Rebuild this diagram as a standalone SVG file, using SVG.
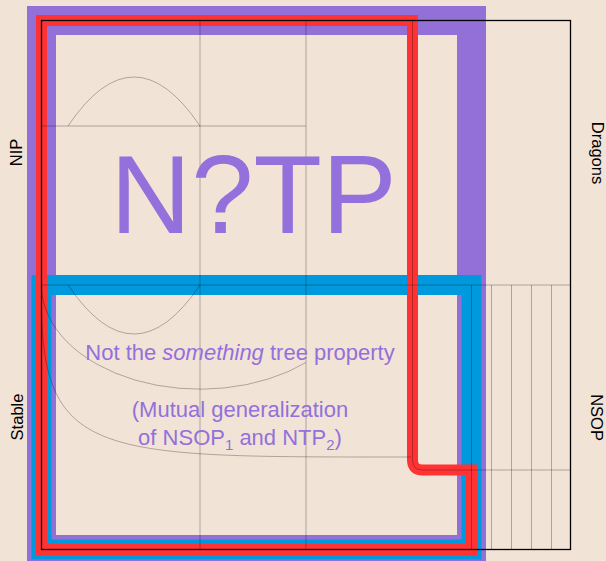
<svg xmlns="http://www.w3.org/2000/svg" width="606" height="561" viewBox="0 0 606 561">
  <style>
    .grid { fill: none; stroke: #000; stroke-opacity: 0.28; stroke-width: 1; }
    .lbl { font-family: "Liberation Sans", Arial, sans-serif; font-size: 16.5px; fill: #000; text-anchor: middle; }
    .sub { font-family: "Liberation Sans", Arial, sans-serif; font-size: 22px; fill: #9370DB; text-anchor: middle; }
    .big { font-family: "Liberation Sans", Arial, sans-serif; font-size: 112px; fill: #9370DB; text-anchor: middle; }
  </style>
  <rect x="0" y="0" width="606" height="561" fill="#F2E3D7"/>

  <g id="ntp-region">
    <rect x="41.5" y="20.5" width="430" height="529" fill="none" stroke="#9370D8" stroke-width="29"/>
  </g>
  <g id="stable-region">
    <rect x="41.5" y="285" width="430" height="264.5" fill="none" stroke="#0099DD" stroke-width="20"/>
  </g>
  <g id="nip-region">
    <path d="M41.5 20.5 H412.5 V460 Q412.5 470 422.5 470 H471.5 V549.5 H41.5 Z" fill="none" stroke="#FF3333" stroke-width="11" stroke-linejoin="miter"/>
  </g>

  <g id="connectors">
    <line class="grid" x1="200" y1="20.5" x2="200" y2="549.5"/>
    <line class="grid" x1="306" y1="20.5" x2="306" y2="549.5"/>
    <line class="grid" x1="41.5" y1="126" x2="306" y2="126"/>
    <line class="grid" x1="41.5" y1="285" x2="570.5" y2="285"/>
    <path class="grid" d="M412.5 20.5 V460 Q412.5 470 422.5 470 H570.5" stroke-width="2"/>
    <line class="grid" x1="471.5" y1="285" x2="471.5" y2="549.5"/>
    <line class="grid" x1="491.5" y1="285" x2="491.5" y2="549.5"/>
    <line class="grid" x1="511.5" y1="285" x2="511.5" y2="549.5"/>
    <line class="grid" x1="531.5" y1="285" x2="531.5" y2="549.5"/>
    <line class="grid" x1="551.5" y1="285" x2="551.5" y2="549.5"/>
    <path class="grid" d="M68 126 Q134 28 200 126"/>
    <path class="grid" d="M68 285 Q134 383 200 285"/>
    <path class="grid" d="M41.5 285 A158.5 104 0 0 0 306 362.5"/>
    <path class="grid" d="M41.5 300 C41.5 460 100 457 411 457"/>
  </g>

  <g id="frame">
    <rect x="41.5" y="20.5" width="529" height="529" fill="none" stroke="#000" stroke-width="1.3"/>
  </g>

  <g id="title">
    <text class="big" x="253.5" y="233">N?TP</text>
  </g>
  <g id="description">
    <text class="sub" x="240" y="360">Not the <tspan font-style="italic">something</tspan> tree property</text>
    <text class="sub" x="240" y="417">(Mutual generalization</text>
    <text class="sub" x="240" y="445">of NSOP<tspan font-size="15" dy="5">1</tspan><tspan dy="-5"> and NTP</tspan><tspan font-size="15" dy="5">2</tspan><tspan dy="-5">)</tspan></text>
  </g>

  <g id="label-nip"><text class="lbl" transform="translate(21.5,152.5) rotate(-90)">NIP</text></g>
  <g id="label-stable"><text class="lbl" transform="translate(22.5,417) rotate(-90)">Stable</text></g>
  <g id="label-dragons"><text class="lbl" transform="translate(591.5,153) rotate(90)">Dragons</text></g>
  <g id="label-nsop"><text class="lbl" transform="translate(590.5,417.5) rotate(90)">NSOP</text></g>
</svg>
